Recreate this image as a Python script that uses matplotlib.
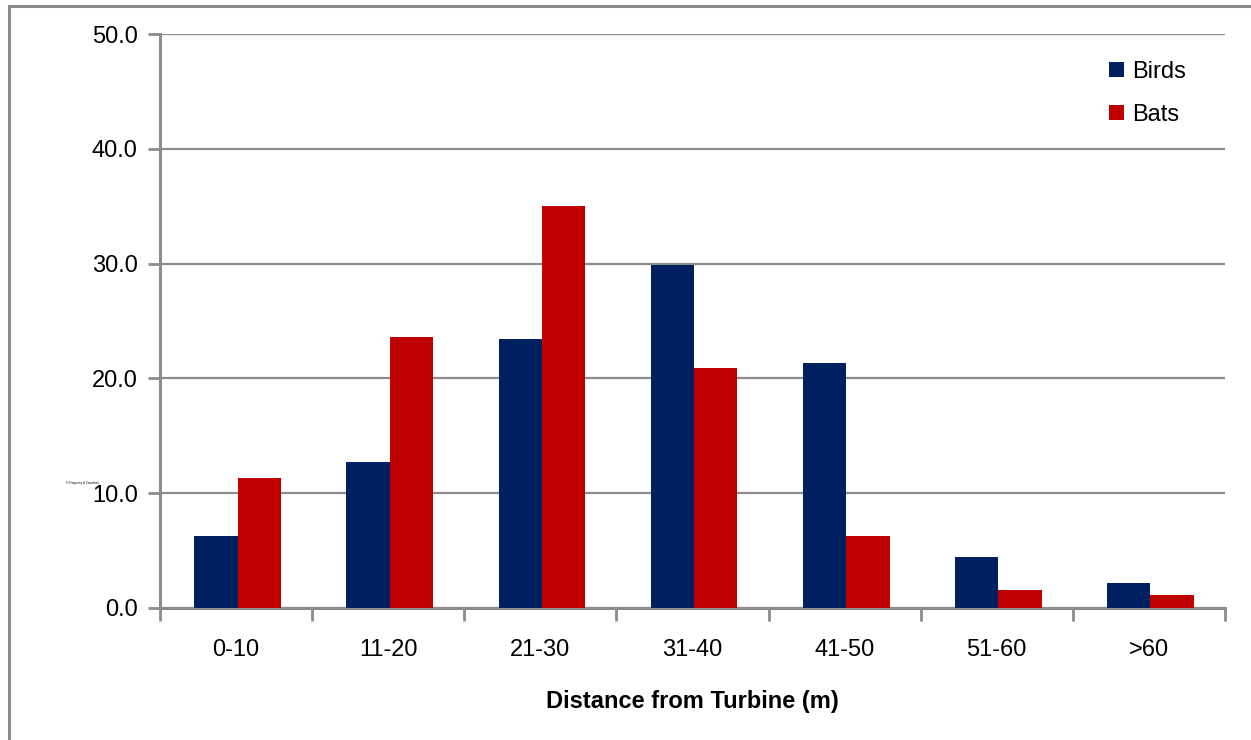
import numpy as np
import matplotlib
matplotlib.use('Agg')
import matplotlib.pyplot as plt
from matplotlib.patches import Rectangle

# Data
categories = ['0-10', '11-20', '21-30', '31-40', '41-50', '51-60', '>60']
birds = [6.3, 12.7, 23.4, 29.9, 21.3, 4.4, 2.2]
bats = [11.3, 23.6, 35.0, 20.9, 6.3, 1.6, 1.1]
y_ticks = [0, 10, 20, 30, 40, 50]

plt.rcParams['font.family'] = ['Liberation Sans', 'DejaVu Sans']
grey = '#8c8c8c'
fs = 17

fig = plt.figure(figsize=(12.51, 7.40), dpi=100)
ax = fig.add_axes([160 / 1251, 1 - 608 / 740, 1065 / 1251, 574 / 740])

# Outer chart frame (right and bottom edges are clipped in the reference)
fig.patches.append(Rectangle((9 / 1251, -0.05), 1.2, 1 - 6 / 740 + 0.05,
                             transform=fig.transFigure, fill=False,
                             edgecolor=grey, linewidth=2.2))

x = np.arange(len(categories))
w = 0.285
ax.bar(x - w / 2 + 0.01, birds, width=w, color='#002060', label='Birds', zorder=3)
ax.bar(x + w / 2 + 0.01, bats, width=w, color='#C00000', label='Bats', zorder=3)

ax.set_xlim(-0.5, len(categories) - 0.5)
ax.set_ylim(0, 50)
ax.set_yticks(y_ticks)
ax.set_yticklabels([f'{v:.1f}' for v in y_ticks], fontsize=fs)
ax.yaxis.grid(True, color=grey, linewidth=1.6, zorder=0)

# category labels between boundary ticks
ax.set_xticks(np.arange(-0.5, len(categories)), minor=False)
ax.set_xticklabels([])
ax.set_xticks(x, minor=True)
ax.set_xticklabels(categories, minor=True, fontsize=fs)
ax.tick_params(axis='x', which='major', length=9, width=2, color=grey, direction='out')
ax.tick_params(axis='x', which='minor', length=0, pad=22)
ax.tick_params(axis='y', length=9, width=2, color=grey, direction='out', pad=7)

for side in ['top', 'right']:
    ax.spines[side].set_visible(False)
for side in ['left', 'bottom']:
    ax.spines[side].set_color(grey)
    ax.spines[side].set_linewidth(2.2)

ax.set_xlabel('Distance from Turbine (m)', fontsize=fs, fontweight='bold', labelpad=21)

# tiny y-axis title, as in the original
fig.text(82 / 1251, 1 - 483 / 740, '% Frequency of Casualties', fontsize=2,
         ha='center', va='center')

ax.legend(loc='upper right', bbox_to_anchor=(0.983, 0.99), frameon=False, fontsize=fs,
          handlelength=0.6, handleheight=0.6, handletextpad=0.35, labelspacing=0.88)

fig.savefig('out.png', dpi=100)
